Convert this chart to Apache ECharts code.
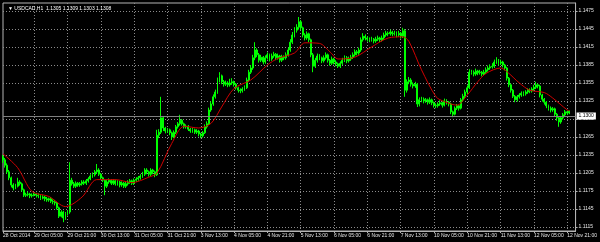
<!DOCTYPE html>
<html><head><meta charset="utf-8">
<script src="https://cdn.jsdelivr.net/npm/echarts@6/dist/echarts.min.js"></script>
<style>html,body{margin:0;padding:0;background:#000}#c{width:600px;height:242px}</style>
</head><body><div id="c"></div>
<script>
const symbol = 'USDCAD,H1';
const tickLabels = ['28 Oct 2014','29 Oct 05:00','29 Oct 21:00','30 Oct 13:00','31 Oct 05:00','31 Oct 21:00','3 Nov 13:00','4 Nov 05:00','4 Nov 21:00','5 Nov 13:00','6 Nov 05:00','6 Nov 21:00','7 Nov 13:00','10 Nov 05:00','10 Nov 21:00','11 Nov 13:00','12 Nov 05:00','12 Nov 21:00'];
const priceTicks = [1.1115,1.1145,1.1175,1.1205,1.1235,1.1265,1.1295,1.1325,1.1355,1.1385,1.1415,1.1445,1.1475];

const opens = [
1.1232,1.1227,1.1218,1.1207,1.1197,1.1185,1.1180,1.1183,1.1190,1.1187,
1.1177,1.1168,1.1169,1.1170,1.1167,1.1168,1.1170,1.1168,1.1167,1.1163,
1.1165,1.1162,1.1160,1.1162,1.1158,1.1157,1.1155,1.1147,1.1133,1.1140,
1.1130,1.1137,1.1140,1.1193,1.1187,1.1183,1.1188,1.1185,1.1187,1.1190,
1.1188,1.1192,1.1195,1.1200,1.1202,1.1207,1.1210,1.1203,1.1197,1.1193,
1.1183,1.1190,1.1193,1.1188,1.1192,1.1187,1.1190,1.1185,1.1188,1.1183,
1.1187,1.1190,1.1192,1.1188,1.1193,1.1195,1.1197,1.1200,1.1203,1.1210,
1.1207,1.1203,1.1210,1.1207,1.1202,1.1268,1.1273,1.1297,1.1280,1.1275,
1.1277,1.1272,1.1265,1.1273,1.1282,1.1287,1.1293,1.1287,1.1282,1.1283,
1.1278,1.1275,1.1277,1.1273,1.1275,1.1270,1.1267,1.1272,1.1282,1.1287,
1.1310,1.1320,1.1332,1.1340,1.1360,1.1367,1.1357,1.1353,1.1355,1.1352,
1.1355,1.1357,1.1353,1.1347,1.1343,1.1342,1.1345,1.1347,1.1360,1.1373,
1.1380,1.1397,1.1410,1.1402,1.1393,1.1398,1.1390,1.1397,1.1402,1.1395,
1.1400,1.1403,1.1397,1.1400,1.1393,1.1398,1.1397,1.1402,1.1410,1.1423,
1.1435,1.1443,1.1448,1.1457,1.1447,1.1435,1.1430,1.1437,1.1427,1.1402,
1.1383,1.1393,1.1400,1.1397,1.1392,1.1397,1.1402,1.1393,1.1388,1.1395,
1.1390,1.1387,1.1383,1.1388,1.1393,1.1397,1.1392,1.1395,1.1398,1.1402,
1.1407,1.1405,1.1410,1.1427,1.1433,1.1430,1.1428,1.1427,1.1428,1.1425,
1.1428,1.1430,1.1427,1.1430,1.1435,1.1438,1.1437,1.1440,1.1437,1.1438,
1.1435,1.1438,1.1433,1.1442,1.1343,1.1357,1.1360,1.1353,1.1350,1.1353,
1.1320,1.1327,1.1328,1.1325,1.1327,1.1323,1.1327,1.1322,1.1318,1.1317,
1.1320,1.1322,1.1318,1.1325,1.1323,1.1320,1.1307,1.1303,1.1313,1.1317,
1.1313,1.1327,1.1333,1.1340,1.1347,1.1373,1.1373,1.1370,1.1375,1.1372,
1.1373,1.1370,1.1373,1.1377,1.1380,1.1382,1.1383,1.1390,1.1393,1.1388,
1.1390,1.1385,1.1380,1.1363,1.1352,1.1343,1.1333,1.1327,1.1332,1.1335,
1.1338,1.1337,1.1340,1.1343,1.1342,1.1345,1.1348,1.1352,1.1350,1.1335,
1.1328,1.1323,1.1317,1.1313,1.1310,1.1312,1.1303,1.1297,1.1290,1.1297,
1.1302,1.1307,1.1305];

const highs = [
1.1235,1.1230,1.1221,1.1210,1.1199,1.1188,1.1187,1.1197,1.1193,1.1189,
1.1179,1.1172,1.1174,1.1172,1.1171,1.1173,1.1172,1.1171,1.1169,1.1168,
1.1167,1.1165,1.1164,1.1165,1.1161,1.1160,1.1157,1.1149,1.1143,1.1142,
1.1140,1.1143,1.1223,1.1197,1.1190,1.1191,1.1190,1.1190,1.1193,1.1193,
1.1195,1.1198,1.1203,1.1206,1.1210,1.1220,1.1213,1.1205,1.1199,1.1195,
1.1193,1.1196,1.1195,1.1195,1.1194,1.1193,1.1192,1.1191,1.1190,1.1190,
1.1193,1.1195,1.1194,1.1196,1.1198,1.1200,1.1203,1.1207,1.1213,1.1213,
1.1209,1.1213,1.1212,1.1209,1.1277,1.1278,1.1332,1.1300,1.1282,1.1280,
1.1279,1.1274,1.1276,1.1285,1.1290,1.1302,1.1295,1.1289,1.1286,1.1285,
1.1280,1.1280,1.1279,1.1278,1.1277,1.1272,1.1275,1.1286,1.1291,1.1314,
1.1324,1.1336,1.1344,1.1364,1.1373,1.1369,1.1360,1.1359,1.1358,1.1362,
1.1363,1.1359,1.1355,1.1349,1.1346,1.1348,1.1351,1.1364,1.1377,1.1385,
1.1402,1.1423,1.1413,1.1405,1.1402,1.1400,1.1401,1.1406,1.1404,1.1404,
1.1407,1.1405,1.1404,1.1402,1.1402,1.1401,1.1406,1.1414,1.1428,1.1440,
1.1448,1.1453,1.1465,1.1460,1.1449,1.1438,1.1441,1.1439,1.1429,1.1405,
1.1397,1.1404,1.1403,1.1399,1.1401,1.1406,1.1404,1.1395,1.1399,1.1397,
1.1393,1.1389,1.1391,1.1397,1.1401,1.1400,1.1399,1.1402,1.1406,1.1411,
1.1410,1.1414,1.1431,1.1438,1.1436,1.1433,1.1431,1.1432,1.1430,1.1432,
1.1434,1.1432,1.1434,1.1439,1.1442,1.1441,1.1444,1.1442,1.1442,1.1441,
1.1442,1.1440,1.1447,1.1445,1.1361,1.1365,1.1363,1.1356,1.1357,1.1355,
1.1331,1.1332,1.1331,1.1330,1.1329,1.1331,1.1329,1.1324,1.1321,1.1323,
1.1326,1.1324,1.1329,1.1328,1.1325,1.1322,1.1309,1.1316,1.1320,1.1319,
1.1330,1.1337,1.1344,1.1351,1.1378,1.1377,1.1376,1.1379,1.1377,1.1377,
1.1375,1.1377,1.1381,1.1384,1.1386,1.1388,1.1394,1.1398,1.1395,1.1394,
1.1392,1.1387,1.1382,1.1365,1.1354,1.1345,1.1335,1.1335,1.1338,1.1341,
1.1341,1.1343,1.1346,1.1346,1.1348,1.1352,1.1357,1.1354,1.1352,1.1337,
1.1330,1.1325,1.1319,1.1316,1.1315,1.1314,1.1305,1.1299,1.1300,1.1305,
1.1310,1.1309,1.1309];

const lows = [
1.1222,1.1214,1.1204,1.1193,1.1181,1.1176,1.1178,1.1181,1.1184,1.1174,
1.1165,1.1165,1.1166,1.1163,1.1164,1.1166,1.1164,1.1163,1.1160,1.1161,
1.1158,1.1157,1.1157,1.1155,1.1153,1.1151,1.1144,1.1130,1.1131,1.1123,
1.1127,1.1134,1.1137,1.1184,1.1180,1.1180,1.1182,1.1182,1.1184,1.1185,
1.1185,1.1189,1.1193,1.1197,1.1199,1.1204,1.1200,1.1194,1.1190,1.1168,
1.1180,1.1187,1.1185,1.1185,1.1184,1.1184,1.1181,1.1182,1.1180,1.1180,
1.1184,1.1187,1.1185,1.1185,1.1190,1.1192,1.1194,1.1197,1.1200,1.1203,
1.1199,1.1200,1.1203,1.1198,1.1200,1.1263,1.1270,1.1275,1.1271,1.1272,
1.1268,1.1260,1.1263,1.1270,1.1279,1.1284,1.1284,1.1279,1.1279,1.1275,
1.1272,1.1272,1.1270,1.1270,1.1266,1.1263,1.1264,1.1270,1.1279,1.1285,
1.1307,1.1317,1.1329,1.1337,1.1356,1.1353,1.1349,1.1350,1.1348,1.1349,
1.1352,1.1349,1.1344,1.1339,1.1338,1.1339,1.1342,1.1345,1.1357,1.1370,
1.1377,1.1393,1.1398,1.1389,1.1390,1.1386,1.1387,1.1394,1.1391,1.1392,
1.1397,1.1393,1.1394,1.1389,1.1390,1.1393,1.1394,1.1399,1.1407,1.1420,
1.1431,1.1439,1.1444,1.1443,1.1431,1.1426,1.1427,1.1423,1.1398,1.1373,
1.1380,1.1389,1.1393,1.1388,1.1389,1.1394,1.1389,1.1384,1.1385,1.1386,
1.1383,1.1380,1.1380,1.1385,1.1390,1.1388,1.1389,1.1392,1.1395,1.1399,
1.1401,1.1402,1.1407,1.1424,1.1426,1.1424,1.1423,1.1424,1.1421,1.1422,
1.1425,1.1423,1.1424,1.1427,1.1432,1.1433,1.1434,1.1433,1.1434,1.1431,
1.1432,1.1429,1.1430,1.1332,1.1339,1.1353,1.1349,1.1346,1.1347,1.1315,
1.1316,1.1323,1.1321,1.1322,1.1319,1.1320,1.1318,1.1314,1.1313,1.1314,
1.1317,1.1314,1.1316,1.1319,1.1316,1.1303,1.1298,1.1301,1.1310,1.1309,
1.1311,1.1324,1.1330,1.1337,1.1345,1.1369,1.1366,1.1367,1.1368,1.1369,
1.1366,1.1368,1.1370,1.1374,1.1377,1.1379,1.1380,1.1387,1.1384,1.1385,
1.1381,1.1376,1.1359,1.1348,1.1339,1.1330,1.1323,1.1324,1.1329,1.1332,
1.1333,1.1334,1.1337,1.1338,1.1339,1.1342,1.1345,1.1346,1.1331,1.1324,
1.1319,1.1313,1.1309,1.1306,1.1307,1.1299,1.1292,1.1282,1.1287,1.1294,
1.1299,1.1302,1.1303];

const closes = [
1.1227,1.1218,1.1207,1.1197,1.1185,1.1180,1.1183,1.1190,1.1187,1.1177,
1.1168,1.1169,1.1170,1.1167,1.1168,1.1170,1.1168,1.1167,1.1163,1.1165,
1.1162,1.1160,1.1162,1.1158,1.1157,1.1155,1.1147,1.1133,1.1140,1.1130,
1.1137,1.1140,1.1193,1.1187,1.1183,1.1188,1.1185,1.1187,1.1190,1.1188,
1.1192,1.1195,1.1200,1.1202,1.1207,1.1210,1.1203,1.1197,1.1193,1.1183,
1.1190,1.1193,1.1188,1.1192,1.1187,1.1190,1.1185,1.1188,1.1183,1.1187,
1.1190,1.1192,1.1188,1.1193,1.1195,1.1197,1.1200,1.1203,1.1210,1.1207,
1.1203,1.1210,1.1207,1.1202,1.1268,1.1273,1.1297,1.1280,1.1275,1.1277,
1.1272,1.1265,1.1273,1.1282,1.1287,1.1293,1.1287,1.1282,1.1283,1.1278,
1.1275,1.1277,1.1273,1.1275,1.1270,1.1267,1.1272,1.1282,1.1287,1.1310,
1.1320,1.1332,1.1340,1.1360,1.1367,1.1357,1.1353,1.1355,1.1352,1.1355,
1.1357,1.1353,1.1347,1.1343,1.1342,1.1345,1.1347,1.1360,1.1373,1.1380,
1.1397,1.1410,1.1402,1.1393,1.1398,1.1390,1.1397,1.1402,1.1395,1.1400,
1.1403,1.1397,1.1400,1.1393,1.1398,1.1397,1.1402,1.1410,1.1423,1.1435,
1.1443,1.1448,1.1457,1.1447,1.1435,1.1430,1.1437,1.1427,1.1402,1.1383,
1.1393,1.1400,1.1397,1.1392,1.1397,1.1402,1.1393,1.1388,1.1395,1.1390,
1.1387,1.1383,1.1388,1.1393,1.1397,1.1392,1.1395,1.1398,1.1402,1.1407,
1.1405,1.1410,1.1427,1.1433,1.1430,1.1428,1.1427,1.1428,1.1425,1.1428,
1.1430,1.1427,1.1430,1.1435,1.1438,1.1437,1.1440,1.1437,1.1438,1.1435,
1.1438,1.1433,1.1442,1.1343,1.1357,1.1360,1.1353,1.1350,1.1353,1.1320,
1.1327,1.1328,1.1325,1.1327,1.1323,1.1327,1.1322,1.1318,1.1317,1.1320,
1.1322,1.1318,1.1325,1.1323,1.1320,1.1307,1.1303,1.1313,1.1317,1.1313,
1.1327,1.1333,1.1340,1.1347,1.1373,1.1373,1.1370,1.1375,1.1372,1.1373,
1.1370,1.1373,1.1377,1.1380,1.1382,1.1383,1.1390,1.1393,1.1388,1.1390,
1.1385,1.1380,1.1363,1.1352,1.1343,1.1333,1.1327,1.1332,1.1335,1.1338,
1.1337,1.1340,1.1343,1.1342,1.1345,1.1348,1.1352,1.1350,1.1335,1.1328,
1.1323,1.1317,1.1313,1.1310,1.1312,1.1303,1.1297,1.1290,1.1297,1.1302,
1.1307,1.1305,1.1308];

// red moving average at these bar positions
const maBars = [0,7,14,22,30,38,45,54,62,70,74,81,87,94,100,105,111,119,127,132,140,145,152,157,161,169,177,185,192,195,201,208,212,218,223,228,232,239,242,248,253,260,264,271,272];
const maValues = [1.1237,1.1214,1.1174,1.1166,1.1149,1.1165,1.1194,1.1194,1.1189,1.1198,1.1205,1.1254,1.1283,1.1280,1.1288,1.1315,1.1346,1.1360,1.1385,1.1396,1.1405,1.1422,1.1421,1.1407,1.1395,1.1398,1.1415,1.1430,1.1432,1.1424,1.1377,1.1332,1.1324,1.1318,1.1335,1.1357,1.1371,1.1380,1.1374,1.1355,1.1343,1.1339,1.1330,1.1310,1.1309];

// hourly categories (weekends skipped)
const months = ['Jan','Feb','Mar','Apr','May','Jun','Jul','Aug','Sep','Oct','Nov','Dec'];
const categories = [];
let t = Date.UTC(2014, 9, 28, 14);
while (categories.length < 276) {
  const d = new Date(t);
  const wd = d.getUTCDay();
  if (wd !== 0 && wd !== 6) {
    const h = d.getUTCHours();
    categories.push(d.getUTCDate() + ' ' + months[d.getUTCMonth()] + ' ' + (h < 10 ? '0' + h : h) + ':00');
  }
  t += 3600000;
}
const labelAt = {};
tickLabels.forEach(function (s, k) {
  const idx = k === 0 ? 0 : categories.indexOf(s);
  labelAt[idx] = s;
});
const isTick = function (i) { return labelAt[i] !== undefined; };

const ohlc = closes.map(function (c, i) { return [opens[i], c, lows[i], highs[i]]; });
const last = closes.length - 1;
const f4 = function (v) { return Number(v).toFixed(4); };
const GREEN = '#00ff00', GREEN_BODY = '#00c000';

const chart = echarts.init(document.getElementById('c'), null, { renderer: 'canvas' });
chart.setOption({
  backgroundColor: '#000',
  animation: false,
  textStyle: { fontFamily: 'Liberation Sans' },
  title: {
    text: '\u25BC ' + symbol + '  ' + [opens[last], highs[last], lows[last], closes[last]].map(f4).join(' '),
    left: 3, top: 1,
    textStyle: { color: '#ffffff', fontSize: 5, fontWeight: 'normal', fontFamily: 'Liberation Sans' }
  },
  grid: { left: 3, right: 23, top: 3, bottom: 11, show: true, borderColor: '#b4b4b4', borderWidth: 1, backgroundColor: '#000' },
  xAxis: {
    type: 'category', data: categories, boundaryGap: false,
    axisLine: { lineStyle: { color: '#b4b4b4' } },
    axisTick: { interval: isTick, length: 2, lineStyle: { color: '#b4b4b4' } },
    axisLabel: {
      interval: isTick, formatter: function (v, i) { return labelAt[i] || ''; },
      color: '#e6e6e6', fontSize: 5, align: 'left', margin: 2, fontFamily: 'Liberation Sans'
    },
    splitLine: { show: true, interval: function (i) { return i > 0 && isTick(i); }, lineStyle: { color: '#8c8c8c', type: [1, 2] } }
  },
  yAxis: {
    type: 'value', position: 'right', min: 1.1108333, max: 1.1488333,
    axisLine: { show: true, lineStyle: { color: '#b4b4b4' } },
    axisTick: { show: true, customValues: priceTicks, length: 2, lineStyle: { color: '#b4b4b4' } },
    axisLabel: { customValues: priceTicks, formatter: f4, color: '#e6e6e6', fontSize: 5, margin: 3, fontFamily: 'Liberation Sans' },
    splitLine: { show: true, lineStyle: { color: '#8c8c8c', type: [1, 2] } }
  },
  series: [
    {
      type: 'candlestick', data: ohlc, barWidth: 1.4,
      itemStyle: { color: GREEN_BODY, color0: GREEN_BODY, borderColor: GREEN, borderColor0: GREEN, borderColorDoji: GREEN, borderWidth: 1, opacity: 1 },
      emphasis: { disabled: true },
      markLine: {
        symbol: ['none', 'none'], silent: true, animation: false,
        data: [{ yAxis: closes[last] }],
        lineStyle: { color: '#808080', type: 'solid', width: 1 },
        label: { position: 'end', formatter: function (p) { return f4(p.value); }, backgroundColor: '#ffffff', color: '#000', fontSize: 5, padding: [1, 2], distance: 1 }
      }
    },
    {
      type: 'line', data: maBars.map(function (b, k) { return [b, maValues[k]]; }),
      smooth: 0.3, showSymbol: false, lineStyle: { color: '#d00000', width: 1 }
    }
  ]
});
</script></body></html>
